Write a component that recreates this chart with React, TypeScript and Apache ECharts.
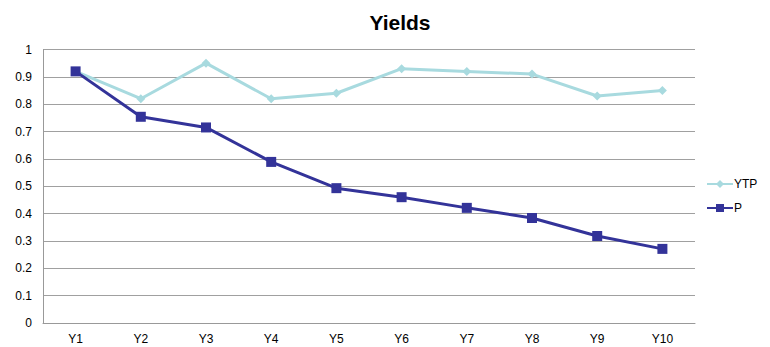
import React, { useEffect, useRef } from "react";
import * as echarts from "echarts";

const categories = ["Y1", "Y2", "Y3", "Y4", "Y5", "Y6", "Y7", "Y8", "Y9", "Y10"];
const ytp = [0.92, 0.82, 0.95, 0.82, 0.84, 0.93, 0.92, 0.91, 0.83, 0.85];
const p = [0.92, 0.754, 0.715, 0.589, 0.493, 0.46, 0.421, 0.384, 0.318, 0.271];

export default function App() {
  const ref = useRef<HTMLDivElement>(null);
  useEffect(() => {
    const chart = echarts.init(ref.current!, null, { renderer: "svg" });
    const font = "'Liberation Sans', Arial, sans-serif";
    chart.setOption({
      animation: false,
      textStyle: { fontFamily: font },
      title: {
        text: "Yields",
        left: 395,
        textAlign: "center",
        top: 7,
        textStyle: { fontSize: 21, fontWeight: "bold", color: "#000", fontFamily: font },
      },
      legend: {
        orient: "vertical",
        left: 701,
        top: 173,
        itemWidth: 26,
        itemHeight: 10,
        itemGap: 12,
        textStyle: { fontSize: 12, color: "#000", fontFamily: font, padding: [0, 0, 0, -4] },
        data: ["YTP", "P"],
      },
      grid: { left: 43, right: 75, top: 49.5, bottom: 24, containLabel: false },
      xAxis: {
        type: "category",
        data: categories,
        boundaryGap: true,
        axisLine: { lineStyle: { color: "#999", width: 1 } },
        axisTick: { show: false },
        axisLabel: { color: "#000", fontSize: 12, margin: 10, fontFamily: font },
      },
      yAxis: {
        type: "value",
        min: 0,
        max: 1,
        interval: 0.1,
        axisLine: { show: true, lineStyle: { color: "#999", width: 1 } },
        axisTick: { show: false },
        axisLabel: { color: "#000", fontSize: 12, margin: 11, fontFamily: font },
        splitLine: { lineStyle: { color: "#a0a0a0", width: 1 } },
      },
      series: [
        {
          name: "YTP",
          type: "line",
          data: ytp,
          symbol: "diamond",
          symbolSize: 9,
          lineStyle: { color: "#A8DADF", width: 3 },
          itemStyle: { color: "#A8DADF" },
        },
        {
          name: "P",
          type: "line",
          data: p,
          symbol: "rect",
          symbolSize: 10,
          lineStyle: { color: "#333399", width: 3 },
          itemStyle: { color: "#333399" },
        },
      ],
    });
    return () => chart.dispose();
  }, []);
  return <div ref={ref} style={{ width: 770, height: 347, position: "absolute", left: 0, top: 0 }} />;
}
